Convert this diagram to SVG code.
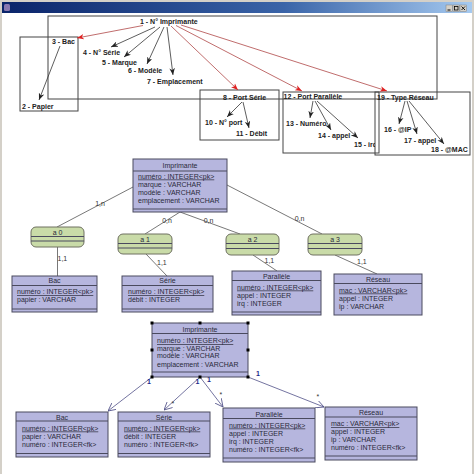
<svg xmlns="http://www.w3.org/2000/svg" width="474" height="474" viewBox="0 0 474 474">
<style>
.t{font-family:"Liberation Sans",Arial,sans-serif;font-size:7px;font-weight:bold;fill:#222}
.e{font-family:"Liberation Sans",Arial,sans-serif;font-size:7px;fill:#2a2a3a}
.c{text-anchor:middle}
.u{text-decoration:underline}
.lb{font-family:"Liberation Sans",Arial,sans-serif;font-size:7px;fill:#333}
.one{font-family:"Liberation Sans",Arial,sans-serif;font-size:7px;font-weight:bold;fill:#1a2a8a}
.box{fill:none;stroke:#444;stroke-width:1}
.ent{fill:#b6b6de;stroke:#4a4a5e;stroke-width:1}
.sep{stroke:#4a4a5e;stroke-width:1}
.asc{fill:#c9dba8;stroke:#6e7060;stroke-width:1}
.red{stroke:#b04848;stroke-width:0.8;fill:none}
.blk{stroke:#333;stroke-width:0.8;fill:none}
.mcd{stroke:#555;stroke-width:0.8;fill:none}
.mld{stroke:#505088;stroke-width:0.8;fill:none}
.h{fill:#000}
</style>
<defs>
<linearGradient id="tb" x1="0" y1="0" x2="1" y2="0">
<stop offset="0" stop-color="#0a246a"/>
<stop offset="0.6" stop-color="#3a64a8"/>
<stop offset="1" stop-color="#a6caf0"/>
</linearGradient>
<marker id="ar" viewBox="0 0 10 8" refX="10" refY="4" markerWidth="7" markerHeight="6" markerUnits="userSpaceOnUse" orient="auto">
<path d="M0,0 L10,4 L0,8 L3,4 z" fill="#e02020"/>
</marker>
<marker id="ab" viewBox="0 0 10 8" refX="10" refY="4" markerWidth="7" markerHeight="6" markerUnits="userSpaceOnUse" orient="auto">
<path d="M0,0 L10,4 L0,8 L3,4 z" fill="#222"/>
</marker>
<marker id="ao" viewBox="0 0 10 10" refX="10" refY="5" markerWidth="8" markerHeight="8" markerUnits="userSpaceOnUse" orient="auto">
<path d="M0,0 L10,5 L0,10" fill="none" stroke="#505088" stroke-width="1"/>
</marker>
<clipPath id="clip15"><rect x="340" y="130" width="35" height="25"/></clipPath>
</defs>

<rect x="0" y="0" width="474" height="474" fill="#ffffff"/>
<rect x="0" y="0" width="474" height="2" fill="#d4d0c8"/>
<rect x="0" y="0" width="2" height="474" fill="#d4d0c8"/>
<rect x="472" y="0" width="2" height="474" fill="#d4d0c8"/>

<!-- title bar -->
<g id="titlebar">
<rect x="2" y="2" width="470" height="11" fill="url(#tb)"/>
<rect x="4" y="4" width="6" height="7" rx="1.5" fill="#8878b0"/>
<rect x="446" y="5" width="6.5" height="6.5" fill="#d4d0c8" stroke="#808080" stroke-width="0.5"/>
<line x1="447.5" y1="10" x2="450.5" y2="10" stroke="#000" stroke-width="1"/>
<rect x="453" y="5" width="6.5" height="6.5" fill="#d4d0c8" stroke="#808080" stroke-width="0.5"/>
<rect x="454.5" y="6.5" width="3.5" height="3.5" fill="none" stroke="#000" stroke-width="0.8"/>
<rect x="460" y="5" width="6.5" height="6.5" fill="#d4d0c8" stroke="#808080" stroke-width="0.5"/>
<path d="M461.5,6.5 L465,10 M465,6.5 L461.5,10" stroke="#000" stroke-width="0.9"/>
</g>

<!-- ===== Section 1: dependency graph ===== -->
<g id="frames">
<rect class="box" x="20" y="37" width="58" height="74"/>
<rect class="box" x="200" y="90" width="79" height="50"/>
<rect class="box" x="283" y="92" width="96" height="61"/>
<rect class="box" x="375" y="92" width="95" height="63"/>
<rect class="box" x="48" y="16" width="389" height="83"/>
</g>

<g id="deps">
<line class="red" x1="143" y1="25.5" x2="77" y2="38" marker-end="url(#ar)"/>
<line class="red" x1="171" y1="26" x2="238" y2="90" marker-end="url(#ar)"/>
<line class="red" x1="176" y1="25.5" x2="302" y2="91" marker-end="url(#ar)"/>
<line class="red" x1="181" y1="25" x2="387" y2="91" marker-end="url(#ar)"/>
<line class="blk" x1="155" y1="27" x2="111" y2="47" marker-end="url(#ab)"/>
<line class="blk" x1="160" y1="27" x2="124" y2="57" marker-end="url(#ab)"/>
<line class="blk" x1="164" y1="27" x2="147" y2="64" marker-end="url(#ab)"/>
<line class="blk" x1="167" y1="27" x2="173" y2="75" marker-end="url(#ab)"/>
<line class="blk" x1="60" y1="46" x2="39" y2="100" marker-end="url(#ab)"/>
<line class="blk" x1="242" y1="102" x2="227" y2="117" marker-end="url(#ab)"/>
<line class="blk" x1="243" y1="102" x2="249" y2="128" marker-end="url(#ab)"/>
<line class="blk" x1="313" y1="101" x2="310" y2="118" marker-end="url(#ab)"/>
<line class="blk" x1="315" y1="101" x2="331" y2="130" marker-end="url(#ab)"/>
<line class="blk" x1="317" y1="101" x2="358" y2="138" marker-end="url(#ab)"/>
<line class="blk" x1="405" y1="101" x2="399" y2="124" marker-end="url(#ab)"/>
<line class="blk" x1="407" y1="101" x2="417" y2="134" marker-end="url(#ab)"/>
<line class="blk" x1="409" y1="101" x2="444" y2="144" marker-end="url(#ab)"/>
</g>

<g id="attrs1">
<text class="t" x="140" y="23.5">1 - N° Imprimante</text>
<text class="t" x="52" y="44">3 - Bac</text>
<text class="t" x="83" y="54.5">4 - N° Série</text>
<text class="t" x="102" y="65">5 - Marque</text>
<text class="t" x="128" y="73">6 - Modèle</text>
<text class="t" x="147" y="84">7 - Emplacement</text>
<text class="t" x="22" y="108.5">2 - Papier</text>
<text class="t" x="223" y="100">8 - Port Série</text>
<text class="t" x="205" y="125">10 - N° port</text>
<text class="t" x="236" y="136">11 - Débit</text>
<text class="t" x="283.5" y="99">12 - Port Parallèle</text>
<text class="t" x="286" y="126">13 - Numéro</text>
<text class="t" x="318" y="138">14 - appel</text>
<text class="t" x="354" y="147" clip-path="url(#clip15)">15 - irq</text>
<text class="t" x="377" y="99.5">19 - Type Réseau</text>
<text class="t" x="384" y="131.5">16 - @IP</text>
<text class="t" x="404" y="143">17 - appel</text>
<text class="t" x="431" y="152">18 - @MAC</text>
</g>

<!-- ===== Section 2: MCD ===== -->
<g id="mcd-links">
<line class="mcd" x1="133" y1="187" x2="57" y2="227"/>
<line class="mcd" x1="180" y1="212" x2="145" y2="234"/>
<line class="mcd" x1="180" y1="212" x2="240" y2="234"/>
<line class="mcd" x1="227" y1="185" x2="322" y2="234"/>
<line class="mcd" x1="57.5" y1="247" x2="57.5" y2="276"/>
<line class="mcd" x1="146" y1="254" x2="167" y2="276"/>
<line class="mcd" x1="253" y1="255" x2="277" y2="271"/>
<line class="mcd" x1="335" y1="255" x2="377" y2="274"/>
<text class="lb c" x="100" y="205.5">1,n</text>
<text class="lb c" x="167" y="222.5">0,n</text>
<text class="lb c" x="208.5" y="223">0,n</text>
<text class="lb c" x="299.5" y="220.5">0,n</text>
<text class="lb" x="57.5" y="261">1,1</text>
<text class="lb" x="157" y="265">1,1</text>
<text class="lb" x="264.5" y="262.5">1,1</text>
<text class="lb" x="357" y="263.5">1,1</text>
</g>

<g id="mcd-imprimante">
<rect class="ent" x="133" y="159" width="94" height="53"/>
<line class="sep" x1="133" y1="171" x2="227" y2="171"/>
<line class="sep" x1="133" y1="209" x2="227" y2="209"/>
<text class="e c" x="180" y="167.5">Imprimante</text>
<text class="e u" x="138" y="178.5">numéro : INTEGER&lt;pk&gt;</text>
<text class="e" x="138" y="186.5">marque : VARCHAR</text>
<text class="e" x="138" y="194.5">modèle : VARCHAR</text>
<text class="e" x="138" y="202.5">emplacement : VARCHAR</text>
</g>

<g id="mcd-a0">
<rect class="asc" x="31" y="227" width="53" height="20" rx="5"/>
<line class="sep" x1="31" y1="236.5" x2="84" y2="236.5" stroke="#6e7060"/>
<line class="sep" x1="31" y1="241" x2="84" y2="241" stroke="#6e7060"/>
<text class="e c" x="57.5" y="234.5">a 0</text>
</g>
<g id="mcd-a1">
<rect class="asc" x="118" y="234" width="54" height="20" rx="5"/>
<line class="sep" x1="118" y1="243.5" x2="172" y2="243.5" stroke="#6e7060"/>
<line class="sep" x1="118" y1="248" x2="172" y2="248" stroke="#6e7060"/>
<text class="e c" x="145" y="241.5">a 1</text>
</g>
<g id="mcd-a2">
<rect class="asc" x="226" y="234" width="53" height="21" rx="5"/>
<line class="sep" x1="226" y1="243.5" x2="279" y2="243.5" stroke="#6e7060"/>
<line class="sep" x1="226" y1="248.5" x2="279" y2="248.5" stroke="#6e7060"/>
<text class="e c" x="252.5" y="241.5">a 2</text>
</g>
<g id="mcd-a3">
<rect class="asc" x="308" y="234" width="54" height="21" rx="5"/>
<line class="sep" x1="308" y1="243.5" x2="362" y2="243.5" stroke="#6e7060"/>
<line class="sep" x1="308" y1="248.5" x2="362" y2="248.5" stroke="#6e7060"/>
<text class="e c" x="335" y="241.5">a 3</text>
</g>

<g id="mcd-bac">
<rect class="ent" x="12" y="276" width="85" height="36"/>
<line class="sep" x1="12" y1="285.5" x2="97" y2="285.5"/>
<line class="sep" x1="12" y1="309" x2="97" y2="309"/>
<text class="e c" x="54.5" y="283">Bac</text>
<text class="e u" x="17" y="294">numéro : INTEGER&lt;pk&gt;</text>
<text class="e" x="17" y="302">papier : VARCHAR</text>
</g>
<g id="mcd-serie">
<rect class="ent" x="122" y="276" width="91" height="36"/>
<line class="sep" x1="122" y1="285.5" x2="213" y2="285.5"/>
<line class="sep" x1="122" y1="309" x2="213" y2="309"/>
<text class="e c" x="167.5" y="283">Série</text>
<text class="e u" x="128" y="294">numéro : INTEGER&lt;pk&gt;</text>
<text class="e" x="128" y="302">débit : INTEGER</text>
</g>
<g id="mcd-parallele">
<rect class="ent" x="232" y="271" width="89" height="44"/>
<line class="sep" x1="232" y1="280.5" x2="321" y2="280.5"/>
<line class="sep" x1="232" y1="312" x2="321" y2="312"/>
<text class="e c" x="276.5" y="278.5">Parallèle</text>
<text class="e u" x="237" y="289.5">numéro : INTEGER&lt;pk&gt;</text>
<text class="e" x="237" y="297.5">appel : INTEGER</text>
<text class="e" x="237" y="305.5">irq : INTEGER</text>
</g>
<g id="mcd-reseau">
<rect class="ent" x="334" y="274" width="88" height="41"/>
<line class="sep" x1="334" y1="283.5" x2="422" y2="283.5"/>
<text class="e c" x="378" y="281.5">Réseau</text>
<text class="e u" x="339" y="292.5">mac : VARCHAR&lt;pk&gt;</text>
<text class="e" x="339" y="300.5">appel : INTEGER</text>
<text class="e" x="339" y="308.5">ip : VARCHAR</text>
</g>

<!-- ===== Section 3: MLD ===== -->
<g id="mld-links">
<line class="mld" x1="152" y1="377" x2="108" y2="411" marker-end="url(#ao)"/>
<line class="mld" x1="200" y1="377" x2="164" y2="410" marker-end="url(#ao)"/>
<line class="mld" x1="200" y1="377" x2="223" y2="407" marker-end="url(#ao)"/>
<line class="mld" x1="248" y1="377" x2="324" y2="407" marker-end="url(#ao)"/>
<text class="one" x="147" y="384">1</text>
<text class="one" x="195.5" y="384">1</text>
<text class="one" x="207" y="382">1</text>
<text class="one" x="256" y="376">1</text>
<text class="lb" x="171.5" y="406" font-size="5">*</text>
<text class="lb" x="219.5" y="397" font-size="5">*</text>
<text class="lb" x="316.5" y="399" font-size="5">*</text>
</g>

<g id="mld-imprimante">
<rect class="ent" x="152" y="323" width="96" height="54"/>
<line class="sep" x1="152" y1="333.5" x2="248" y2="333.5"/>
<line class="sep" x1="152" y1="372" x2="248" y2="372"/>
<text class="e c" x="200" y="331.5">Imprimante</text>
<text class="e u" x="157" y="343">numéro : INTEGER&lt;pk&gt;</text>
<text class="e" x="157" y="350.5">marque : VARCHAR</text>
<text class="e" x="157" y="358">modèle : VARCHAR</text>
<text class="e" x="157" y="366.5">emplacement : VARCHAR</text>
<rect class="h" x="150.5" y="321.5" width="3" height="3"/>
<rect class="h" x="198.5" y="321.5" width="3" height="3"/>
<rect class="h" x="246.5" y="321.5" width="3" height="3"/>
<rect class="h" x="150.5" y="348.5" width="3" height="3"/>
<rect class="h" x="246.5" y="348.5" width="3" height="3"/>
<rect class="h" x="150.5" y="375.5" width="3" height="3"/>
<rect class="h" x="198.5" y="375.5" width="3" height="3"/>
<rect class="h" x="246.5" y="375.5" width="3" height="3"/>
</g>

<g id="mld-bac">
<rect class="ent" x="16" y="412" width="92" height="45"/>
<line class="sep" x1="16" y1="421" x2="108" y2="421"/>
<line class="sep" x1="16" y1="453.5" x2="108" y2="453.5"/>
<text class="e c" x="62" y="419.5">Bac</text>
<text class="e u" x="22" y="430.5">numéro : INTEGER&lt;pk&gt;</text>
<text class="e" x="22" y="438.5">papier : VARCHAR</text>
<text class="e" x="22" y="446.5">numéro : INTEGER&lt;fk&gt;</text>
</g>
<g id="mld-serie">
<rect class="ent" x="118" y="412" width="92" height="45"/>
<line class="sep" x1="118" y1="421" x2="210" y2="421"/>
<line class="sep" x1="118" y1="453.5" x2="210" y2="453.5"/>
<text class="e c" x="164" y="419.5">Série</text>
<text class="e u" x="124" y="430.5">numéro : INTEGER&lt;pk&gt;</text>
<text class="e" x="124" y="438.5">débit : INTEGER</text>
<text class="e" x="124" y="446.5">numéro : INTEGER&lt;fk&gt;</text>
</g>
<g id="mld-parallele">
<rect class="ent" x="223" y="408" width="92" height="54"/>
<line class="sep" x1="223" y1="418.5" x2="315" y2="418.5"/>
<line class="sep" x1="223" y1="458" x2="315" y2="458"/>
<text class="e c" x="269" y="416.5">Parallèle</text>
<text class="e u" x="229" y="427.5">numéro : INTEGER&lt;pk&gt;</text>
<text class="e" x="229" y="435.5">appel : INTEGER</text>
<text class="e" x="229" y="443.5">irq : INTEGER</text>
<text class="e" x="229" y="451.5">numéro : INTEGER&lt;fk&gt;</text>
</g>
<g id="mld-reseau">
<rect class="ent" x="325" y="407" width="92" height="53"/>
<line class="sep" x1="325" y1="417" x2="417" y2="417"/>
<line class="sep" x1="325" y1="456" x2="417" y2="456"/>
<text class="e c" x="371" y="414.5">Réseau</text>
<text class="e u" x="331" y="426">mac : VARCHAR&lt;pk&gt;</text>
<text class="e" x="331" y="434">appel : INTEGER</text>
<text class="e" x="331" y="442">ip : VARCHAR</text>
<text class="e" x="331" y="450">numéro : INTEGER&lt;fk&gt;</text>
</g>
</svg>
